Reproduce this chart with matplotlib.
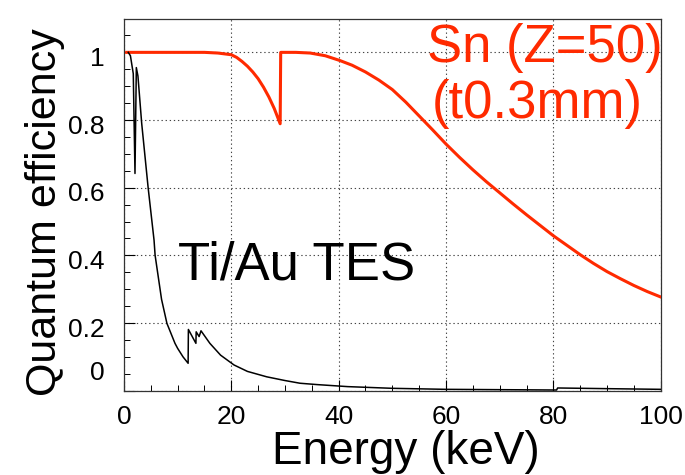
import matplotlib.pyplot as plt
import matplotlib.transforms as mtransforms
from matplotlib.ticker import MultipleLocator

# Sn (Z=50), t=0.3mm
sn_e = [0.5, 10, 15, 17.5, 20, 21, 22, 23, 24, 25, 26, 27, 28, 29.1, 29.2, 32, 34.7, 37.5,
        40.2, 42.5, 45, 47.5, 50, 52.5, 55, 57.5, 60, 62.5, 65, 67.5, 70, 72.5, 75, 77.5,
        80, 82.5, 85, 87.5, 90, 92.5, 95, 97.5, 100]
sn_qe = [1.0, 1.0, 1.0, 0.998, 0.993, 0.985, 0.973, 0.959, 0.942, 0.922, 0.897, 0.868,
         0.834, 0.789, 1.0, 1.0, 0.998, 0.99, 0.976, 0.962, 0.942, 0.918, 0.89, 0.853,
         0.812, 0.771, 0.729, 0.69, 0.653, 0.618, 0.585, 0.552, 0.52, 0.489, 0.458, 0.43,
         0.402, 0.376, 0.352, 0.331, 0.311, 0.293, 0.277]

# Ti/Au TES
tes_e = [0.8, 1.2, 1.73, 2.05, 2.3, 2.6, 3.3, 4.5, 5.6, 5.8, 7.0, 8.0, 9.5, 10, 11, 11.95,
         12.0, 13.4, 13.45, 14.0, 14.35, 16, 18, 20.5, 23, 26.6, 30, 32.8, 36, 41.7, 50,
         60, 70, 80.6, 80.8, 90, 100]
tes_qe = [1.0, 0.99, 0.937, 0.642, 0.955, 0.93, 0.79, 0.60, 0.445, 0.40, 0.27, 0.199,
          0.14, 0.125, 0.10, 0.081, 0.181, 0.14, 0.174, 0.16, 0.177, 0.14, 0.105, 0.076,
          0.057, 0.041, 0.03, 0.022, 0.018, 0.012, 0.007, 0.004, 0.003, 0.002, 0.008,
          0.006, 0.004]

xticks = [0, 20, 40, 60, 80, 100]
yticks = [0, 0.2, 0.4, 0.6, 0.8, 1.0]
ylabels = ['0', '0.2', '0.4', '0.6', '0.8', '1']

red = '#ff2a00'
plt.rcParams['font.family'] = ['Liberation Sans', 'DejaVu Sans']
tickfont = ['Liberation Sans Narrow', 'Liberation Sans']

fig = plt.figure(figsize=(6.85, 4.75), dpi=100)
ax = fig.add_axes([0.181, 0.1775, 0.7835, 0.7835])

ax.plot(sn_e, sn_qe, color=red, lw=2.2, zorder=3)
ax.plot(tes_e, tes_qe, color='black', lw=1.1, zorder=4)

ax.set_xlim(0, 100)
ax.set_ylim(0, 1.1)
ax.set_xticks(xticks)
ax.set_yticks(yticks)
ax.set_xticklabels([str(v) for v in xticks], family=tickfont, fontsize=19)
ax.set_yticklabels(ylabels, family=tickfont, fontsize=19)
ax.xaxis.set_minor_locator(MultipleLocator(5))
ax.yaxis.set_minor_locator(MultipleLocator(0.05))
ax.tick_params(which='major', direction='in', length=8, width=0.8, top=False, right=False)
ax.tick_params(which='minor', direction='in', length=4.5, width=0.7, top=False, right=False)
ax.tick_params(axis='x', which='major', pad=10)
ax.tick_params(axis='y', which='major', pad=14)
ax.grid(True, which='major', color='#444444', lw=0.8, linestyle=(0, (1.2, 2.5)))
for s in ax.spines.values():
    s.set_linewidth(0.9)
    s.set_color('#333333')

# y labels sit a little below their ticks, the "0" is lifted off the x axis
for i, lab in enumerate(ax.get_yticklabels()):
    dy = 0.2 if i == 0 else -0.04
    lab.set_transform(lab.get_transform() +
                      mtransforms.ScaledTranslation(0, dy, fig.dpi_scale_trans))

fig.text(178 / 685, 1 - 279 / 475, 'Ti/Au TES', fontsize=38, color='black', va='baseline')
fig.text(0.624, 1 - 61.7 / 475, 'Sn (Z=50)', fontsize=38, color=red, va='baseline')
fig.text(0.630, 1 - 118.3 / 475, '(t0.3mm)', fontsize=38, color=red, va='baseline')

fig.text(405.5 / 685, 1 - 464 / 475, 'Energy (keV)', fontsize=33, ha='center', va='baseline')
fig.text(45 / 685, 1 - 212 / 475, 'Quantum efficiency', fontsize=31, rotation=90,
         ha='center', va='center')

fig.savefig('out.png', dpi=100)
